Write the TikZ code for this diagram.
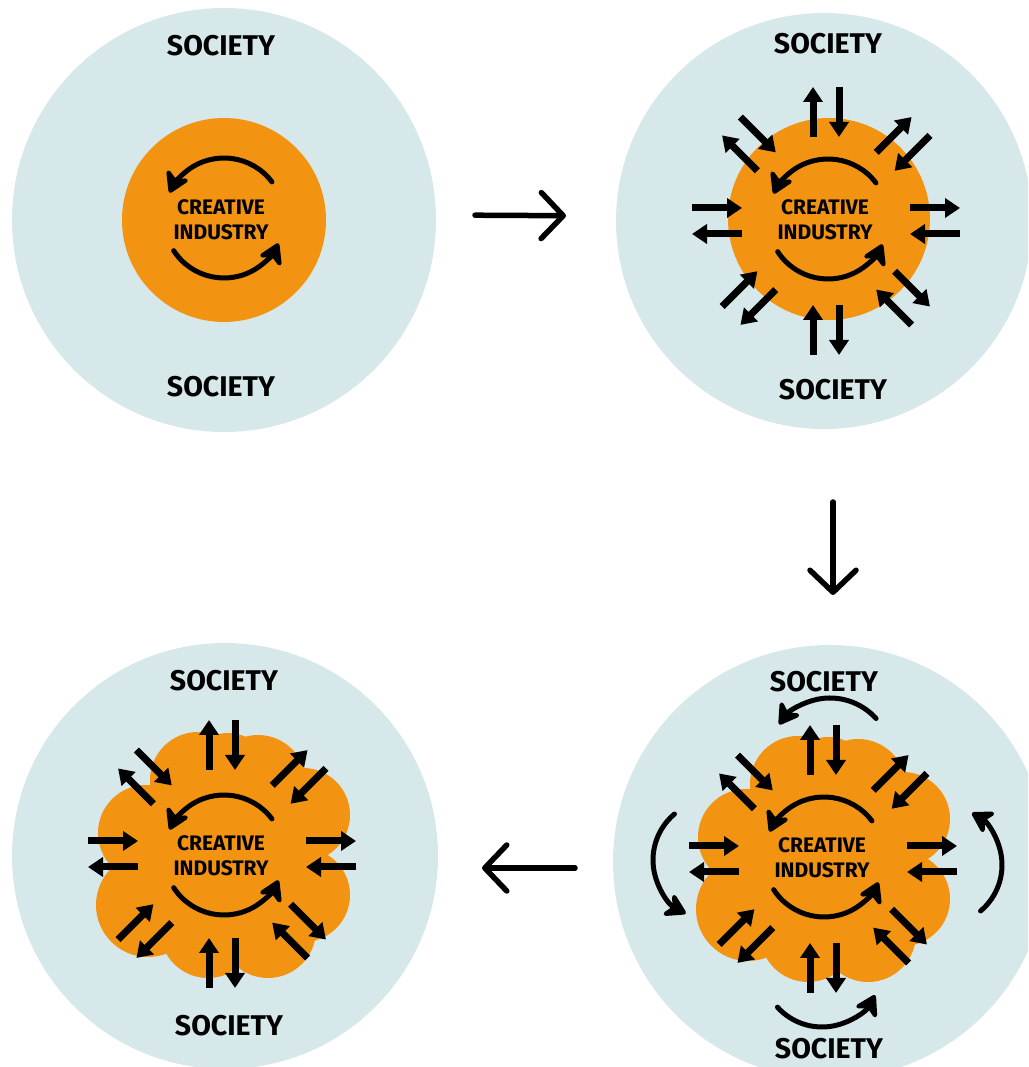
\documentclass[tikz,border=0pt]{standalone}
\usepackage{fontspec}
\setsansfont{Fira Sans}
\usetikzlibrary{arrows.meta}
\definecolor{societyblue}{HTML}{D7E8EA}
\definecolor{industryorange}{HTML}{F29312}

\begin{document}
\begin{tikzpicture}[x=1pt, y=1pt,
    society disc/.style={circle, fill=societyblue, inner sep=0pt, outer sep=0pt},
    industry disc/.style={circle, fill=industryorange, inner sep=0pt, outer sep=0pt},
    society label/.style={font=\sffamily\bfseries\fontsize{28.5}{30}\selectfont,
        inner sep=0pt},
    industry label/.style={font=\sffamily\bfseries\fontsize{21}{25}\selectfont,
        align=center, inner sep=0pt},
    flow/.style={draw=black, line width=5.5pt, line cap=round,
        -{Straight Barb[length=22pt, width=46pt, round]}},
    ray/.style={draw=black, line width=7pt, -{Triangle[length=15pt, width=19pt]}},
    turn/.style={draw=black, line width=5pt, line cap=round,
        -{Stealth[length=25pt, width=30pt, inset=8pt, round]}},
    arrow ring/.pic={
        \foreach \a in {0,45,...,315}{
            \draw[ray, rotate=\a] (84,13) -- (134,13);
            \draw[ray, rotate=\a] (134,-13) -- (84,-13);
        }
    },
    cycle loop/.pic={
        \draw[turn] (37:60) arc[start angle=37, end angle=155, radius=60pt];
        \draw[turn] (213:60) arc[start angle=213, end angle=335, radius=60pt];
    },
    cloud blob/.pic={
        \fill[industryorange] (0,0) circle[radius=100pt]
            (-25,75) circle[radius=48pt] (35,72) circle[radius=48pt]
            (5,80) circle[radius=42pt]
            (80,40) circle[radius=47pt] (80,-40) circle[radius=47pt]
            (45,-75) circle[radius=48pt] (-15,-75) circle[radius=48pt]
            (-75,-50) circle[radius=52pt] (-77,22) circle[radius=48pt];
    }
]
\path[use as bounding box] (0,0) rectangle (1028,1067);
\clip (0,0) rectangle (1028,1067);

% society discs
\node[society disc, minimum size=424pt] (p1) at (224,847) {};
\node[society disc, minimum size=416pt] (p2) at (824,846) {};
\node[society disc, minimum size=426pt] (p3) at (225,211) {};
\node[society disc, minimum size=434pt] (p4) at (830,205) {};

% creative industry cores
\node[industry disc, minimum size=204pt] (core1) at (224,847) {};
\node[industry disc, minimum size=202pt] (core2) at (829,848) {};
\pic at (223,212) {cloud blob};
\pic at (823,208) {cloud blob};

% exchange with society
\pic at (826,846) {arrow ring};
\pic at (222,213) {arrow ring};
\pic at (823,208) {arrow ring};

% inner cycles
\pic at (224,849) {cycle loop};
\pic at (828,848) {cycle loop};
\pic at (224,212) {cycle loop};
\pic at (824,210) {cycle loop};

% cycles in society
\draw[turn, shift={(830,307)}] (42:62) arc[start angle=42, end angle=145, radius=62pt];
\draw[turn, shift={(713,207)}] (130:60) arc[start angle=130, end angle=243, radius=60pt];
\draw[turn, shift={(942,202)}] (-50:60) arc[start angle=-50, end angle=60, radius=60pt];
\draw[turn, shift={(822,100)}] (222:60) arc[start angle=222, end angle=332, radius=60pt];

% labels
\node[industry label] (ci1) at (221,847.5) {CREATIVE\\INDUSTRY};
\node[industry label] (ci2) at (825,847.5) {CREATIVE\\INDUSTRY};
\node[industry label] (ci3) at (221,211.5) {CREATIVE\\INDUSTRY};
\node[industry label] (ci4) at (822,209.5) {CREATIVE\\INDUSTRY};

\node[society label] (s1a) at (221,1021) {SOCIETY};
\node[society label] (s1b) at (221,680) {SOCIETY};
\node[society label] (s2a) at (828,1023) {SOCIETY};
\node[society label] (s2b) at (833,677) {SOCIETY};
\node[society label] (s3a) at (224,386) {SOCIETY};
\node[society label] (s3b) at (229,41) {SOCIETY};
\node[society label] (s4a) at (824,385) {SOCIETY};
\node[society label] (s4b) at (829,18) {SOCIETY};

% steps
\draw[flow, shorten <=39pt, shorten >=50pt]
    ([yshift=5pt]p1.east) -- ([yshift=5pt]p2.west);
\draw[flow, shorten <=73pt, shorten >=50pt]
    ([xshift=9pt]p2.south) -- ([xshift=3pt]p4.north);
\draw[flow, shorten <=38pt, shorten >=44pt]
    ([yshift=-6pt]p4.west) -- ([yshift=-12pt]p3.east);
\end{tikzpicture}
\end{document}
